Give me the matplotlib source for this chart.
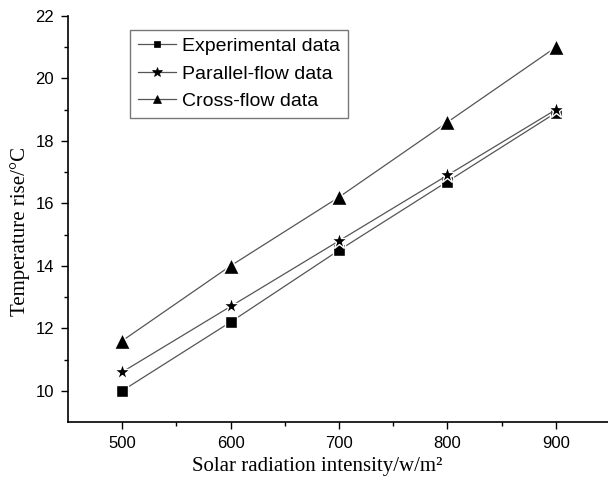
import matplotlib
matplotlib.use("Agg")
import matplotlib.pyplot as plt

x = [500, 600, 700, 800, 900]
experimental = [10.0, 12.2, 14.5, 16.7, 18.9]
parallel = [10.6, 12.7, 14.8, 16.9, 19.0]
cross = [11.6, 14.0, 16.2, 18.6, 21.0]
labels = ["Experimental data", "Parallel-flow data", "Cross-flow data"]

fig = plt.figure(figsize=(6.08, 4.88), dpi=100)
ax = fig.add_axes([68/608, 66/488, 542/608, 406/488])

lw = 0.9
col = "#555555"
mew = 1.0
ax.plot(x, experimental, color=col, lw=lw, marker="s", ms=8, mfc="black", mec="white", mew=mew, label=labels[0])
ax.plot(x, parallel, color=col, lw=lw, marker="*", ms=12.5, mfc="black", mec="white", mew=mew, label=labels[1])
ax.plot(x, cross, color=col, lw=lw, marker="^", ms=11, mfc="black", mec="white", mew=mew, label=labels[2])

ax.set_xlim(450, 950)
ax.set_ylim(9, 22)
ax.set_xticks([500, 600, 700, 800, 900])
ax.set_xticks([550, 650, 750, 850], minor=True)
ax.set_yticks([10, 12, 14, 16, 18, 20, 22])
ax.set_yticks([11, 13, 15, 17, 19, 21], minor=True)
ax.tick_params(which="major", direction="out", length=5, width=1, labelsize=12, pad=5)
ax.tick_params(which="minor", direction="out", length=3, width=1)
for lab in ax.get_xticklabels() + ax.get_yticklabels():
    lab.set_family("Liberation Sans")

ax.spines["top"].set_visible(False)
ax.spines["right"].set_visible(False)
ax.spines["left"].set_linewidth(1.2)
ax.spines["bottom"].set_linewidth(1.2)

xl = ax.set_xlabel("Solar radiation intensity/w/m²", family="Liberation Serif", fontsize=15)
xl.set_verticalalignment("center")
ax.xaxis.set_label_coords(0.46, -0.11)
yl = ax.set_ylabel("Temperature rise/°C", family="Liberation Serif", fontsize=15)
yl.set_verticalalignment("center")
yl.set_horizontalalignment("center")
ax.yaxis.set_label_coords(-0.088, 0.47)

leg = ax.legend(loc="upper left", bbox_to_anchor=(0.114, 0.966), prop={"family": "Liberation Sans", "size": 14},
                frameon=True, fancybox=False, edgecolor="#555555", handlelength=2.0, handletextpad=0.3,
                borderpad=0.4, labelspacing=0.5, borderaxespad=0)
leg.get_frame().set_linewidth(1.0)
for h, s in zip(leg.legend_handles, [5, 7, 6]):
    h.set_markersize(s)
    h.set_markeredgecolor("black")
    h.set_markeredgewidth(0.5)

fig.savefig("out.png", dpi=100)
